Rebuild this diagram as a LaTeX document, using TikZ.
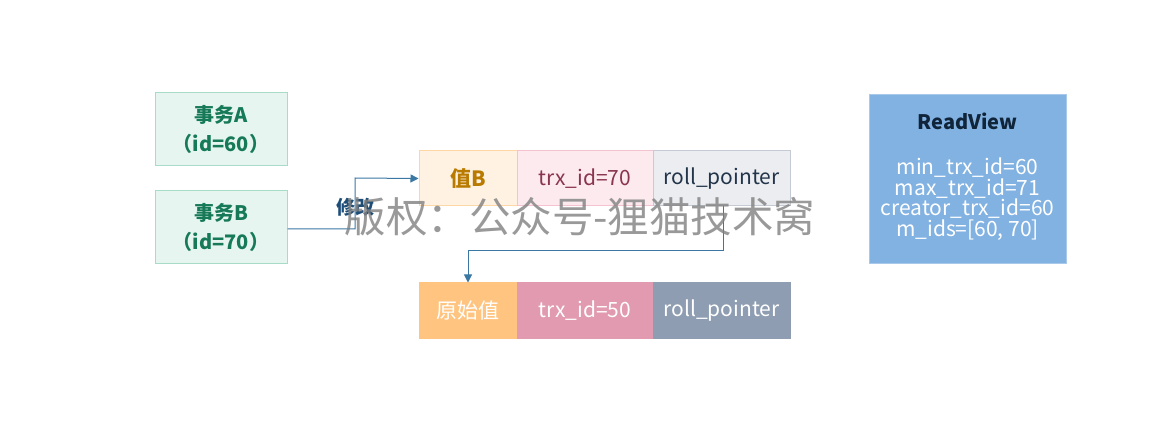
\documentclass[tikz,border=0pt]{standalone}
\usepackage{fontspec}
\setmainfont{Noto Sans CJK SC}
\usetikzlibrary{arrows.meta}
\definecolor{mintfill}{HTML}{E7F5F0}
\definecolor{mintdraw}{HTML}{A9DCC8}
\definecolor{minttext}{HTML}{167A58}
\definecolor{ofill}{HTML}{FFF2E3}
\definecolor{odraw}{HTML}{FDD8A6}
\definecolor{otext}{HTML}{B97A00}
\definecolor{pfill}{HTML}{FCEAEF}
\definecolor{pdraw}{HTML}{F3C3D0}
\definecolor{ptext}{HTML}{8A3550}
\definecolor{gfill}{HTML}{EBEDF1}
\definecolor{gdraw}{HTML}{C4CBD5}
\definecolor{gtext}{HTML}{23354A}
\definecolor{o2fill}{HTML}{FFC47F}
\definecolor{p2fill}{HTML}{E19AAF}
\definecolor{g2fill}{HTML}{8E9DB2}
\definecolor{bfill}{HTML}{82B2E2}
\definecolor{bdraw}{HTML}{A9C9EB}
\definecolor{btext}{HTML}{10243A}
\definecolor{arr}{HTML}{3A77A3}
\definecolor{lbl}{HTML}{1E4E78}
\begin{document}
\begin{tikzpicture}[x=1pt,y=-1pt,
  box/.style={draw, line width=1pt, minimum height=55pt, inner sep=0pt, font=\fontsize{21}{24}\selectfont},
  txbox/.style={draw=mintdraw, fill=mintfill, line width=1pt, minimum width=132pt, minimum height=73pt, align=center, text=minttext, font=\fontsize{20}{29}\selectfont\bfseries},
  conn/.style={draw=arr, line width=1pt, -{Triangle[length=8pt,width=8pt]}}]
\useasboundingbox (0,0) rectangle (1170,430);
\node[txbox] (ta) at (221,129.5) {事务A\\（id=60）};
\node[txbox] (tb) at (221,227.5) {事务B\\（id=70）};
\node[box, draw=odraw, fill=ofill, text=otext, minimum width=98pt] (vb) at (468,178.5) {\bfseries 值B};
\node[box, draw=pdraw, fill=pfill, text=ptext, minimum width=136pt] (t70) at (585,178.5) {trx\_id=70};
\node[box, draw=gdraw, fill=gfill, text=gtext, minimum width=137pt] (rp1) at (721.5,178.5) {roll\_pointer};
\node[box, draw=o2fill, fill=o2fill, text=white, minimum width=98pt] (ov) at (468,310.5) {原始值};
\node[box, draw=p2fill, fill=p2fill, text=white, minimum width=136pt] (t50) at (585,310.5) {trx\_id=50};
\node[box, draw=g2fill, fill=g2fill, text=white, minimum width=137pt] (rp2) at (721.5,310.5) {roll\_pointer};
\node[draw=bdraw, fill=bfill, line width=1pt, minimum width=197pt, minimum height=169pt] (rv) at (967.5,179.5) {};
\node[text=btext, font=\fontsize{20}{22}\selectfont\bfseries] (rvt) at (967.5,121) {ReadView};
\node[text=white, align=center, font=\fontsize{21}{19.5}\selectfont] (rvb) at (967.5,199) {min\_trx\_id=60\\max\_trx\_id=71\\creator\_trx\_id=60\\m\_ids=[60, 70]};
\coordinate (c1) at (355,229);
\coordinate (c2) at (355,178);
\draw[conn] (tb.east |- c1) -- (c1) -- (c2) -- (vb.west);
\node[text=lbl, font=\fontsize{19}{20}\selectfont\bfseries] (mod) at (355,207) {修改};
\coordinate (d1) at (723,251);
\coordinate (d2) at (468,251);
\draw[conn] (rp1.south -| d1) -- (d1) -- (d2) -- (ov.north);
\node[text=black!50, opacity=0.8, font=\fontsize{41.5}{42}\selectfont] (wm) at (580,217) {版权：公众号-狸猫技术窝};
\end{tikzpicture}
\end{document}
